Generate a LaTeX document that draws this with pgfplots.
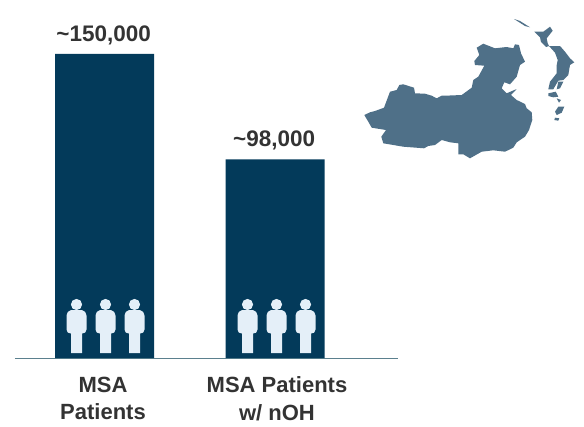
\documentclass[border=0pt]{standalone}
\usepackage{fontspec}
\setmainfont{Liberation Sans}
\usepackage{pgfplots}
\pgfplotsset{compat=1.18}
\definecolor{bar}{HTML}{033A5A}
\definecolor{mapc}{HTML}{4F7088}
\definecolor{person}{HTML}{E4EFF8}
\definecolor{txt}{HTML}{333333}
\definecolor{base}{HTML}{5B808E}
\pgfdeclareplotmark{person}{%
  \pgfpathcircle{\pgfqpoint{0pt}{0pt}}{5.6pt}\pgfusepathqfill
  \pgfpathmoveto{\pgfqpoint{-5.5pt}{-5.6pt}}
  \pgfpathlineto{\pgfqpoint{5.5pt}{-5.6pt}}
  \pgfpathcurveto{\pgfqpoint{8pt}{-6.2pt}}{\pgfqpoint{10pt}{-8pt}}{\pgfqpoint{10pt}{-11pt}}
  \pgfpathlineto{\pgfqpoint{10pt}{-25pt}}
  \pgfpathcurveto{\pgfqpoint{10pt}{-28pt}}{\pgfqpoint{8pt}{-29pt}}{\pgfqpoint{5.5pt}{-29pt}}
  \pgfpathlineto{\pgfqpoint{5.5pt}{-48.5pt}}
  \pgfpathlineto{\pgfqpoint{-5.5pt}{-48.5pt}}
  \pgfpathlineto{\pgfqpoint{-5.5pt}{-29pt}}
  \pgfpathcurveto{\pgfqpoint{-8pt}{-29pt}}{\pgfqpoint{-10pt}{-28pt}}{\pgfqpoint{-10pt}{-25pt}}
  \pgfpathlineto{\pgfqpoint{-10pt}{-11pt}}
  \pgfpathcurveto{\pgfqpoint{-10pt}{-8pt}}{\pgfqpoint{-8pt}{-6.2pt}}{\pgfqpoint{-5.5pt}{-5.6pt}}
  \pgfpathclose\pgfusepathqfill
}
\pgfplotsset{mapshape/.style={fill=mapc,draw=none,forget plot},
  /pgfplots/table/mapt/.style={row sep=\\}}
\begin{document}
\begin{tikzpicture}[x=1pt,y=1pt]
\path[use as bounding box] (0,0) rectangle (584,426);
\begin{axis}[
  at={(15pt,68pt)},anchor=origin,
  scale only axis,width=383pt,height=304pt,
  xmin=15,xmax=398,ymin=0,ymax=150000,
  axis x line*=bottom,axis y line=none,
  axis line style={-,draw=base,line width=0.9pt},
  xtick={103,277},
  xticklabels={MSA\\Patients,MSA Patients\\w/ nOH},
  xticklabel style={align=center,font=\fontsize{22}{27.5}\selectfont\bfseries,text=txt,yshift=-15.5pt},
  major tick length=0pt,
  clip=false,
  ybar,bar width=99pt,bar shift=0pt,
  nodes near coords={\textasciitilde\pgfmathprintnumber{\pgfplotspointmeta}},
  nodes near coords style={font=\fontsize{22.5}{26}\selectfont\bfseries,text=txt,/pgf/number format/1000 sep={,},/pgf/number format/fixed,/pgf/number format/assume math mode=true,yshift=5.5pt,xshift=-0.8pt},
]
\addplot[fill=bar,draw=none] coordinates {(104.5,150000) (275,98000)};
\end{axis}
\begin{axis}[
  at={(0pt,0pt)},anchor=south west,
  scale only axis,width=584pt,height=426pt,
  xmin=0,xmax=584,ymin=0,ymax=426,y dir=reverse,
  hide axis,clip=false,
]
\addplot[only marks,mark=person,color=person,mark options={fill=person,draw=none}] coordinates {
 (76.5,304.5) (105.5,304.5) (134.5,304.5) (247.5,304.5) (276.5,304.5) (305.5,304.5)};
\addplot[mapshape] table[mapt]{
x y\\ 364.3 115\\ 370 112.3\\ 375 111\\ 384 107.7\\ 390 91.7\\ 396.7 90\\ 399.3 85\\ 403.3 84.3\\ 414 87.7\\ 415 93.3\\ 425 93.7\\ 431.7 95.7\\ 436.7 98.3\\ 441.7 95.7\\ 445 95.7\\ 461.7 95\\ 471.7 87.7\\ 473.3 80\\ 478.3 76.7\\ 484.3 65.7\\ 475 65\\ 474.3 61\\ 479.3 55\\ 476.7 47.7\\ 483.3 43.7\\ 495 48.3\\ 506.7 47\\ 513.3 48.3\\ 515 44.3\\ 519 45\\ 521 53.3\\ 525 61.7\\ 520 65\\ 516.7 76.7\\ 510 84.3\\ 504.3 82.3\\ 501.7 88.3\\ 506.7 93.3\\ 516.7 89\\ 511 95\\ 516.7 100\\ 525 104\\ 526.7 108.3\\ 531.7 112.3\\ 532.3 120\\ 529 130\\ 525 136.7\\ 516.7 142.3\\ 513.3 147.7\\ 505 151.7\\ 493.3 150.3\\ 481.7 151.7\\ 470 158.3\\ 463.3 154.3\\ 458.3 154.3\\ 458.3 143.3\\ 450 142.3\\ 441.7 140\\ 435 145\\ 428.3 146\\ 424 148.3\\ 403.3 146.7\\ 383.3 143.3\\ 381.3 136.7\\ 386 130\\ 371.7 127.7\\ 368.3 121.7\\ 364.3 115\\
};
\addplot[mapshape] table[mapt]{
x y\\ 514 19\\ 520 21\\ 530 27.3\\ 525 26\\ 514 19\\
};
\addplot[mapshape] table[mapt]{
x y\\ 534.3 31.7\\ 543.3 31.7\\ 550 26.7\\ 552.7 30.7\\ 546.7 38.3\\ 547.7 43.3\\ 549 46\\ 546 47\\ 541 42\\ 540 37.3\\ 534.3 31.7\\
};
\addplot[mapshape] table[mapt]{
x y\\ 549 46\\ 560 46\\ 565 51.7\\ 570 58.3\\ 574.3 62.3\\ 570 65\\ 568.3 75\\ 563.3 80\\ 558.3 80.7\\ 553.3 89.3\\ 548.3 89.3\\ 550 81.7\\ 556.7 73.3\\ 556.7 65\\ 557.7 60\\ 555 52.7\\ 549 46\\
};
\addplot[mapshape] table[mapt]{
x y\\ 558.3 81.7\\ 563.3 81.7\\ 560 88.3\\ 556.7 89.3\\ 558.3 81.7\\
};
\addplot[mapshape] table[mapt]{
x y\\ 548.3 93.3\\ 555.7 91.7\\ 558.3 96.7\\ 553.3 97.3\\ 548.3 96\\ 548.3 93.3\\
};
\addplot[mapshape] table[mapt]{
x y\\ 556.7 98.3\\ 561 100\\ 559 102.7\\ 556.7 98.3\\
};
\addplot[mapshape] table[mapt]{
x y\\ 558.3 106.7\\ 564.3 106.7\\ 561.7 112.7\\ 556.7 115\\ 555 111.7\\ 558.3 106.7\\
};
\addplot[mapshape] table[mapt]{
x y\\ 555 117.7\\ 559.3 118.3\\ 558.3 120.7\\ 554.3 120\\ 555 117.7\\
};
\end{axis}
\end{tikzpicture}
\end{document}
